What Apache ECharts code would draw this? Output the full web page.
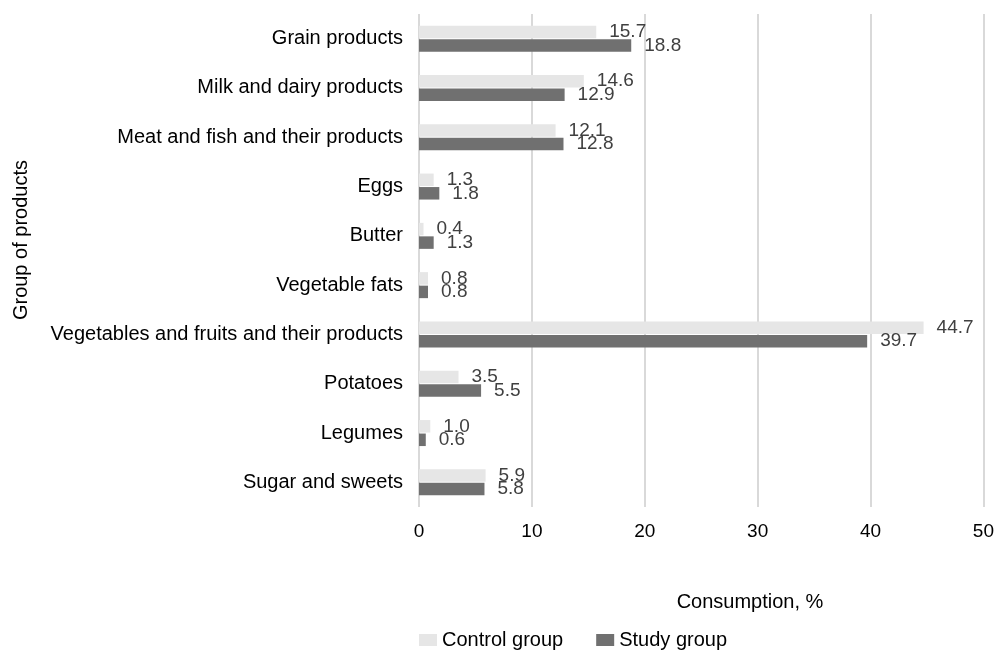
<!DOCTYPE html>
<html>
<head>
<meta charset="utf-8">
<script src="https://cdn.jsdelivr.net/npm/echarts@6/dist/echarts.min.js"></script>
<style>
  html, body { margin: 0; padding: 0; background: #fff; }
  #chart { width: 997px; height: 653px; }
</style>
</head>
<body>
<div id="chart"></div>
<script>
// Product groups, top to bottom
const categories = [
  'Grain products',
  'Milk and dairy products',
  'Meat and fish and their products',
  'Eggs',
  'Butter',
  'Vegetable fats',
  'Vegetables and fruits and their products',
  'Potatoes',
  'Legumes',
  'Sugar and sweets'
];

// Share of consumption, %
const controlGroup = [15.7, 14.6, 12.1, 1.3, 0.4, 0.8, 44.7, 3.5, 1.0, 5.9];
const studyGroup   = [18.8, 12.9, 12.8, 1.8, 1.3, 0.8, 39.7, 5.5, 0.6, 5.8];

const xTicks = { min: 0, max: 50, interval: 10 };

const FONT = '"Liberation Sans", Arial, sans-serif';

const chart = echarts.init(document.getElementById('chart'), null, { renderer: 'canvas' });

const valueLabel = {
  show: true,
  position: 'right',
  distance: 13,
  color: '#404040',
  fontFamily: FONT,
  fontSize: 19,
  formatter: p => p.value.toFixed(1)
};

chart.setOption({
  animation: false,
  textStyle: { fontFamily: FONT },
  grid: { left: 419, right: 10, top: 14, bottom: 146, containLabel: false },
  xAxis: {
    type: 'value',
    min: xTicks.min,
    max: xTicks.max,
    interval: xTicks.interval,
    axisLine: { show: false },
    axisTick: { show: false },
    axisLabel: { color: '#000', fontSize: 19, margin: 15, fontFamily: FONT },
    splitLine: { show: true, lineStyle: { color: '#d9d9d9', width: 2 } }
  },
  yAxis: {
    type: 'category',
    data: categories,
    inverse: true,
    axisLine: { show: false },
    axisTick: { show: false },
    axisLabel: { color: '#000', fontSize: 20, margin: 16, fontFamily: FONT },
    splitLine: { show: false }
  },
  title: {
    text: 'Consumption, %',
    left: 745,
    top: 587,
    textAlign: 'center',
    textStyle: { color: '#000', fontSize: 20, fontWeight: 'normal', fontFamily: FONT }
  },
  graphic: [{
    type: 'text',
    left: 11,
    top: 160,
    rotation: Math.PI / 2,
    style: {
      text: 'Group of products',
      fill: '#000',
      fontSize: 20,
      fontFamily: FONT
    }
  }],
  legend: {
    top: 630,
    left: 419,
    padding: 0,
    itemWidth: 18,
    itemHeight: 12,
    itemGap: 33,
    icon: 'rect',
    textStyle: { color: '#000', fontSize: 20, fontFamily: FONT },
    data: ['Control group', 'Study group']
  },
  series: [
    {
      name: 'Control group',
      type: 'bar',
      data: controlGroup,
      barWidth: 12.5,
      barGap: '8%',
      itemStyle: { color: '#e6e6e6' },
      label: valueLabel
    },
    {
      name: 'Study group',
      type: 'bar',
      data: studyGroup,
      barWidth: 12.5,
      itemStyle: { color: '#707070' },
      label: valueLabel
    }
  ]
});
</script>
</body>
</html>
